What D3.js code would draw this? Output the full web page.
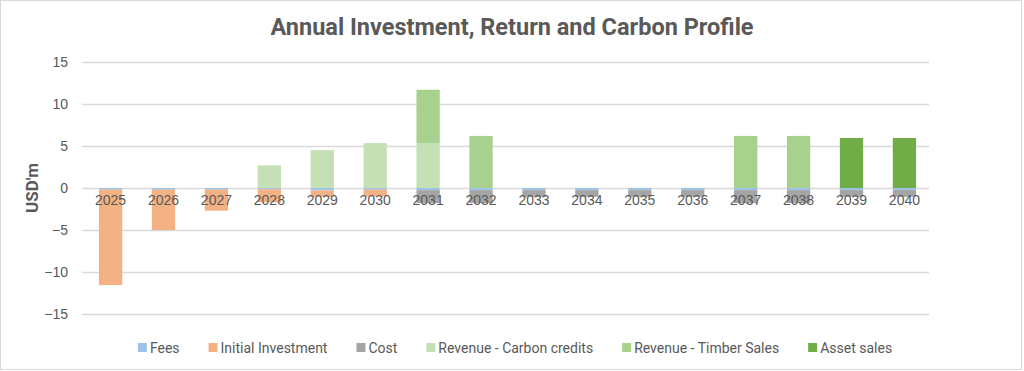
<!DOCTYPE html>
<html>
<head>
<meta charset="utf-8">
<script src="https://cdn.jsdelivr.net/npm/d3@7"></script>
<style>
  body { margin: 0; background: #fff; }
  svg { display: block; font-family: Roboto, "Liberation Sans", sans-serif; }
</style>
</head>
<body>
<svg id="grafic" width="1024" height="371"></svg>
<script>
// ------------------DADES------------------
var anys = [2025, 2026, 2027, 2028, 2029, 2030, 2031, 2032, 2033, 2034, 2035, 2036, 2037, 2038, 2039, 2040];
var fees = [-0.2, -0.2, -0.2, -0.15, -0.3, -0.2, -0.25, -0.25, -0.25, -0.25, -0.25, -0.25, -0.25, -0.25, -0.25, -0.25];
var inversioInicial = [-11.35, -4.8, -2.5, -1.55, -0.75, -0.8, 0, 0, 0, 0, 0, 0, 0, 0, 0, 0];
var costos = [0, 0, 0, 0, 0, 0, -1.55, -1.55, -0.8, -0.8, -0.8, -0.8, -1.55, -1.55, -0.8, -0.8];
var creditsCarboni = [0, 0, 0, 2.7, 4.5, 5.35, 5.35, 0, 0, 0, 0, 0, 0, 0, 0, 0];
var vendaFusta = [0, 0, 0, 0, 0, 0, 6.35, 6.2, 0, 0, 0, 0, 6.2, 6.2, 0, 0];
var vendaActius = [0, 0, 0, 0, 0, 0, 0, 0, 0, 0, 0, 0, 0, 0, 5.95, 5.95];
var ticksY = [-15, -10, -5, 0, 5, 10, 15];

var series = [
    { clau: "fees", nom: "Fees", valors: fees, color: "#9dc3e6" },
    { clau: "inicial", nom: "Initial Investment", valors: inversioInicial, color: "#f4b183" },
    { clau: "cost", nom: "Cost", valors: costos, color: "#a5a5a5" },
    { clau: "carboni", nom: "Revenue - Carbon credits", valors: creditsCarboni, color: "#c5e0b4" },
    { clau: "fusta", nom: "Revenue - Timber Sales", valors: vendaFusta, color: "#a9d18e" },
    { clau: "actius", nom: "Asset sales", valors: vendaActius, color: "#70ad47" }
];

// taula per al d3.stack
var taula = anys.map(function (any, i) {
    let fila = { any: any };
    series.forEach(function (s) { fila[s.clau] = s.valors[i]; });
    return fila;
});

// ------------------GRAFIC------------------
var svg = d3.select("#grafic");
var marge = { esquerra: 82, dreta: 95, dalt: 62, baix: 57 };
var ample = 1024, alt = 371;

// vora del grafic
svg.append("rect")
    .attr("x", 0.5).attr("y", 0.5)
    .attr("width", ample - 3).attr("height", alt - 2)
    .attr("fill", "#fff")
    .attr("stroke", "#d9d9d9");

var x = d3.scaleBand()
    .domain(anys)
    .range([marge.esquerra, ample - marge.dreta + 4])
    .paddingInner(0.56)
    .paddingOuter(0.32);

var y = d3.scaleLinear()
    .domain([-15, 15])
    .range([alt - marge.baix, marge.dalt]);

// linies de la graella i etiquetes de l'eix Y
var eixY = d3.axisLeft(y)
    .tickValues(ticksY)
    .tickSize(-(ample - marge.dreta - marge.esquerra))
    .tickPadding(14);

var gY = svg.append("g")
    .attr("transform", `translate(${marge.esquerra},0)`)
    .call(eixY);
gY.select(".domain").remove();
gY.selectAll(".tick line").attr("stroke", "#d9d9d9").attr("stroke-width", 1.3);
gY.selectAll(".tick text")
    .attr("fill", "#595959")
    .style("font-size", "14px");

// barres apilades
var apilat = d3.stack()
    .keys(series.map(function (s) { return s.clau; }))
    .offset(d3.stackOffsetDiverging)(taula);

svg.append("g")
    .selectAll("g")
    .data(apilat)
    .join("g")
    .attr("fill", function (d, i) { return series[i].color; })
    .selectAll("rect")
    .data(function (d) { return d; })
    .join("rect")
    .attr("x", function (d) { return x(d.data.any); })
    .attr("width", x.bandwidth())
    .attr("y", function (d) { return y(Math.max(d[0], d[1])); })
    .attr("height", function (d) { return Math.abs(y(d[0]) - y(d[1])); });

// etiquetes de l'eix X, just sota el zero
var eixX = d3.axisBottom(x).tickSize(0).tickPadding(7);
var gX = svg.append("g")
    .attr("transform", `translate(0,${y(0)})`)
    .call(eixX);
gX.select(".domain").remove();
gX.selectAll(".tick text")
    .attr("fill", "#595959")
    .style("font-size", "14px");

// titol
svg.append("text")
    .attr("x", 512)
    .attr("y", 35)
    .attr("text-anchor", "middle")
    .attr("fill", "#595959")
    .style("font-size", "23.5px")
    .style("font-weight", "bold")
    .text("Annual Investment, Return and Carbon Profile");

// titol de l'eix Y
svg.append("text")
    .attr("transform", `translate(38,${y(0)}) rotate(-90)`)
    .attr("text-anchor", "middle")
    .attr("fill", "#595959")
    .style("font-size", "17px")
    .style("font-weight", "bold")
    .text("USD'm");

// llegenda
var llegenda = svg.append("g");
var posX = 0;
series.forEach(function (s) {
    let item = llegenda.append("g").attr("transform", `translate(${posX},0)`);
    item.append("rect")
        .attr("x", 0).attr("y", -10)
        .attr("width", 9).attr("height", 9)
        .attr("fill", s.color);
    let txt = item.append("text")
        .attr("x", 12).attr("y", 0)
        .attr("fill", "#595959")
        .style("font-size", "14px")
        .text(s.nom);
    posX += 12 + txt.node().getComputedTextLength() + 29;
});
var ampleLlegenda = posX - 29;
llegenda.attr("transform", `translate(${(137 + 893) / 2 - ampleLlegenda / 2},353)`);
</script>
</body>
</html>
